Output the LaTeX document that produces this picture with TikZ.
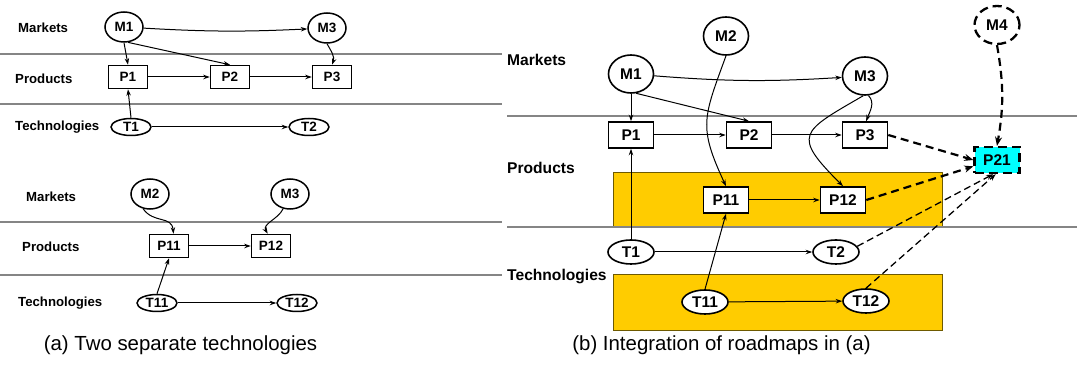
\documentclass[tikz,border=0pt]{standalone}
\usepackage{fontspec}
\setmainfont{Liberation Sans}
\usetikzlibrary{shapes.geometric,arrows.meta}

\definecolor{laneline}{HTML}{858585}
\definecolor{mergefill}{HTML}{FFCC00}
\definecolor{mergeedge}{HTML}{6E5A00}
\definecolor{newprod}{HTML}{00FFFF}

\begin{document}
\begin{tikzpicture}[x=1pt,y=1pt,
  lane/.style={draw=laneline,line width=2.5pt},
  smalllabel/.style={anchor=west,inner sep=0pt,font=\bfseries\fontsize{13.2}{15}\selectfont},
  biglabel/.style={anchor=west,inner sep=0pt,font=\bfseries\fontsize{15.6}{18}\selectfont},
  caption/.style={anchor=base,inner sep=0pt,font=\fontsize{20.4}{24}\selectfont},
  snode/.style={draw,line width=1.5pt,fill=white,inner sep=0pt,font=\bfseries\fontsize{13.5}{15}\selectfont},
  smkt/.style={snode,ellipse,minimum width=38pt,minimum height=30pt},
  sprod/.style={snode,rectangle,minimum width=39pt,minimum height=23pt},
  stech/.style={snode,ellipse,minimum width=40pt,minimum height=17pt},
  bnode/.style={draw,line width=1.6pt,fill=white,inner sep=0pt,font=\bfseries\fontsize{15.5}{17}\selectfont},
  bmkt/.style={bnode,ellipse,minimum width=45pt,minimum height=38pt},
  bprod/.style={bnode,rectangle,minimum width=45pt,minimum height=26pt},
  btech/.style={bnode,ellipse,minimum width=46pt,minimum height=24pt},
  newnode/.style={line width=2.3pt,dash pattern=on 9pt off 5pt},
  merge/.style={fill=mergefill,draw=mergeedge,line width=0.8pt},
  link/.style={-{Stealth[length=6.5pt,width=4.5pt]},line width=1pt},
  newlink/.style={-{Stealth[length=9pt,width=7pt]},line width=2.2pt,dash pattern=on 8pt off 5pt},
  hintlink/.style={-{Stealth[length=7pt,width=5pt]},line width=1.3pt,dash pattern=on 7pt off 4pt}
]
\useasboundingbox (0,0) rectangle (1080,-379);

% ---------- (a) upper roadmap ----------
\draw[lane] (0,-54) -- (502,-54);
\draw[lane] (0,-104) -- (502,-104);
\node[smalllabel] (uMk) at (18,-28) {Markets};
\node[smalllabel] (uPr) at (15,-79) {Products};
\node[smalllabel] (uTe) at (15,-127) {Technologies};

\node[smkt] (uM1) at (124,-27) {M1};
\node[smkt] (uM3) at (327,-28) {M3};
\node[sprod] (uP1) at (128,-77) {P1};
\node[sprod] (uP2) at (230,-77) {P2};
\node[sprod] (uP3) at (332,-77) {P3};
\node[stech] (uT1) at (131,-127) {T1};
\node[stech] (uT2) at (309,-127) {T2};

\draw[link] (uM1) to[bend right=3] (uM3);
\draw[link] (uM1.south) -- (uP1.north);
\draw[link] (uM1.-75) -- (uP2.north);
\draw[link] (uM3.south) to[out=-60,in=70] (uP3.north);
\draw[link] (uP1) -- (uP2);
\draw[link] (uP2) -- (uP3);
\draw[link] (uT1.north) -- (uP1.south);
\draw[link] (uT1) -- (uT2);

% ---------- (a) lower roadmap ----------
\draw[lane] (0,-222) -- (502,-222);
\draw[lane] (0,-275) -- (502,-275);
\node[smalllabel] (lMk) at (26,-197) {Markets};
\node[smalllabel] (lPr) at (22,-247) {Products};
\node[smalllabel] (lTe) at (18,-303) {Technologies};

\node[smkt] (lM2) at (150,-194) {M2};
\node[smkt] (lM3) at (290,-194) {M3};
\node[sprod] (lP11) at (169,-246) {P11};
\node[sprod] (lP12) at (271,-246) {P12};
\node[stech] (lT11) at (157,-303) {T11};
\node[stech] (lT12) at (297,-303) {T12};

\draw[link] (lM2.-115) to[out=-55,in=95,looseness=1.2] (lP11.70);
\draw[link] (lM3.-115) to[out=-115,in=120] (lP12.105);
\draw[link] (lP11) -- (lP12);
\draw[link] (lT11.north) -- (lP11.south);
\draw[link] (lT11) -- (lT12);

\node[caption] (capA) at (180.5,-351) {(a) Two separate technologies};

% ---------- (b) integrated roadmap ----------
\draw[merge] (613,-172) rectangle (942,-227);
\draw[merge] (613,-274) rectangle (942,-330);
\draw[lane] (507,-116) -- (1077,-116);
\draw[lane] (507,-227) -- (1077,-227);
\node[biglabel] (rMk) at (507,-60) {Markets};
\node[biglabel] (rPr) at (507,-168) {Products};
\node[biglabel] (rTe) at (507,-277) {Technologies};

\node[bmkt] (rM1) at (631,-74) {M1};
\node[bmkt] (rM2) at (726,-36) {M2};
\node[bmkt] (rM3) at (865,-76) {M3};
\node[bmkt,newnode] (rM4) at (997,-25) {M4};
\node[bprod] (rP1) at (631,-135) {P1};
\node[bprod] (rP2) at (749,-135) {P2};
\node[bprod] (rP3) at (865,-135) {P3};
\node[bprod] (rP11) at (726,-200) {P11};
\node[bprod] (rP12) at (843,-200) {P12};
\node[bprod,newnode,fill=newprod] (rP21) at (997,-160) {P21};
\node[btech] (rT1) at (631,-252) {T1};
\node[btech] (rT2) at (836,-252) {T2};
\node[btech] (rT11) at (705,-302) {T11};
\node[btech] (rT12) at (866,-301) {T12};

\draw[link] (rM1) to[bend right=4] (rM3);
\draw[link] (rM1.south) -- (rP1.north);
\draw[link] (rM1.-75) -- (rP2.north);
\draw[link] (rM2.south) to[out=-110,in=115,looseness=1.3] (rP11.north);
\draw[link] (rM3.-80) to[out=-45,in=70] (rP3.85);
\draw[link] (rM3.-95) to[out=-150,in=135,looseness=2] (rP12.north);
\draw[link] (rP1) -- (rP2);
\draw[link] (rP2) -- (rP3);
\draw[link] (rP11) -- (rP12);
\draw[link] (rT1.north) -- (rP1.south);
\draw[link] (rT11.north) -- (rP11.south);
\draw[link] (rT1) -- (rT2);
\draw[link] (rT11) -- (rT12);

\draw[newlink] (rP3.east) -- (rP21.west);
\draw[newlink] (rP12.east) -- (rP21.195);
\draw[newlink] (rM4.south) to[out=-80,in=80] (rP21.north);
\draw[hintlink] (rT2.15) -- (rP21.-105);
\draw[hintlink] (rT12.north) -- (rP21.-95);

\node[caption] (capB) at (721.5,-351) {(b) Integration of roadmaps in (a)};
\end{tikzpicture}
\end{document}
